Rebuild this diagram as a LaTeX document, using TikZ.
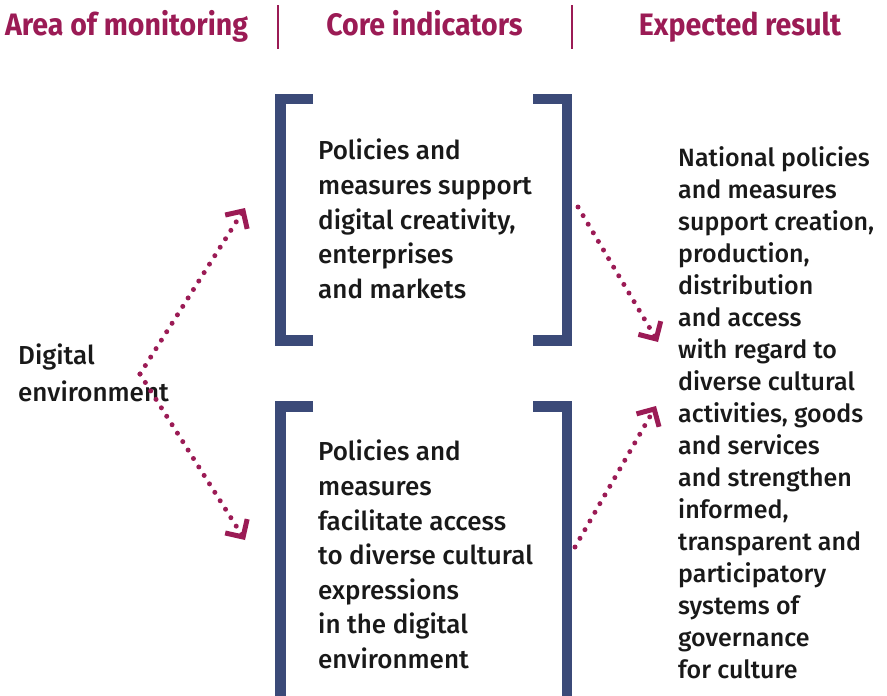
\documentclass[tikz,border=0pt]{standalone}
\usepackage{fontspec}
\setmainfont{Fira Sans}
\newfontfamily\bodyfont{Fira Sans Medium}
\newfontfamily\headfont{Fira Sans}[FakeStretch=0.92]
\usetikzlibrary{arrows.meta}
\definecolor{crimson}{HTML}{9B1B55}
\definecolor{navy}{HTML}{3B4A78}
\tikzstyle{head} = [anchor=base, inner sep=0, text=crimson, font=\headfont\bfseries\fontsize{31}{36}\selectfont]
\tikzstyle{sep} = [crimson, line width=2pt]
\tikzstyle{bracket} = [navy, line width=10.5pt, line cap=butt, line join=miter]
\tikzstyle{body} = [anchor=north west, inner sep=0, align=left, text=black!90]
\tikzstyle{dotarrow} = [crimson, line width=5pt, line cap=round, dash pattern=on 0pt off 10pt, -{Straight Barb[length=13pt, width=26pt, line width=5pt, sharp]}]

\begin{document}
\begin{tikzpicture}[x=1pt, y=-1pt]
\useasboundingbox (0,0) rectangle (887,696);
% column headers
\node [head] (area) at (126.5,35) {Area of monitoring};
\node [head] (core) at (424.5,35) {Core indicators};
\node [head] (result) at (740,35) {Expected result};
\draw [sep] (278,5) -- (278,49);
\draw [sep] (572,5) -- (572,49);

% brackets
\draw [bracket] (313,99) -- (280.5,99) -- (280.5,340.5) -- (313,340.5);
\draw [bracket] (533,99) -- (567,99) -- (567,340.5) -- (533,340.5);
\draw [bracket] (313,406.5) -- (280.5,406.5) -- (280.5,700);
\draw [bracket] (533,406.5) -- (567,406.5) -- (567,700);

% texts
\node [body, font=\bodyfont\fontsize{26}{37}\selectfont] (digital) at (18,344) {Digital\\environment};
\node [body, font=\bodyfont\fontsize{26}{34.6}\selectfont] (market) at (318,139)
  {Policies and\\measures support\\digital creativity,\\enterprises\\and markets};
\node [body, font=\bodyfont\fontsize{26}{34.6}\selectfont] (access) at (318,440)
  {Policies and\\measures\\facilitate access\\to diverse cultural\\expressions\\in the digital\\environment};
\node [body, font=\bodyfont\fontsize{25}{32}\selectfont] (expected) at (678,146)
  {National policies\\and measures\\support creation,\\production,\\distribution\\and access\\with regard to\\diverse cultural\\activities, goods\\and services\\and strengthen\\informed,\\transparent and\\participatory\\systems of\\governance\\for culture};

% arrows
\coordinate (src) at (140,374);
\coordinate (tip1) at (245,208);
\coordinate (tip2) at (245,540);
\coordinate (from1) at (578,207);
\coordinate (tip3) at (658,342);
\coordinate (from2) at (575,547);
\coordinate (tip4) at (656,406);
\draw [dotarrow] (src) -- (tip1);
\draw [dotarrow] (src) -- (tip2);
\draw [dotarrow] (from1) -- (tip3);
\draw [dotarrow] (from2) -- (tip4);
\end{tikzpicture}
\end{document}
